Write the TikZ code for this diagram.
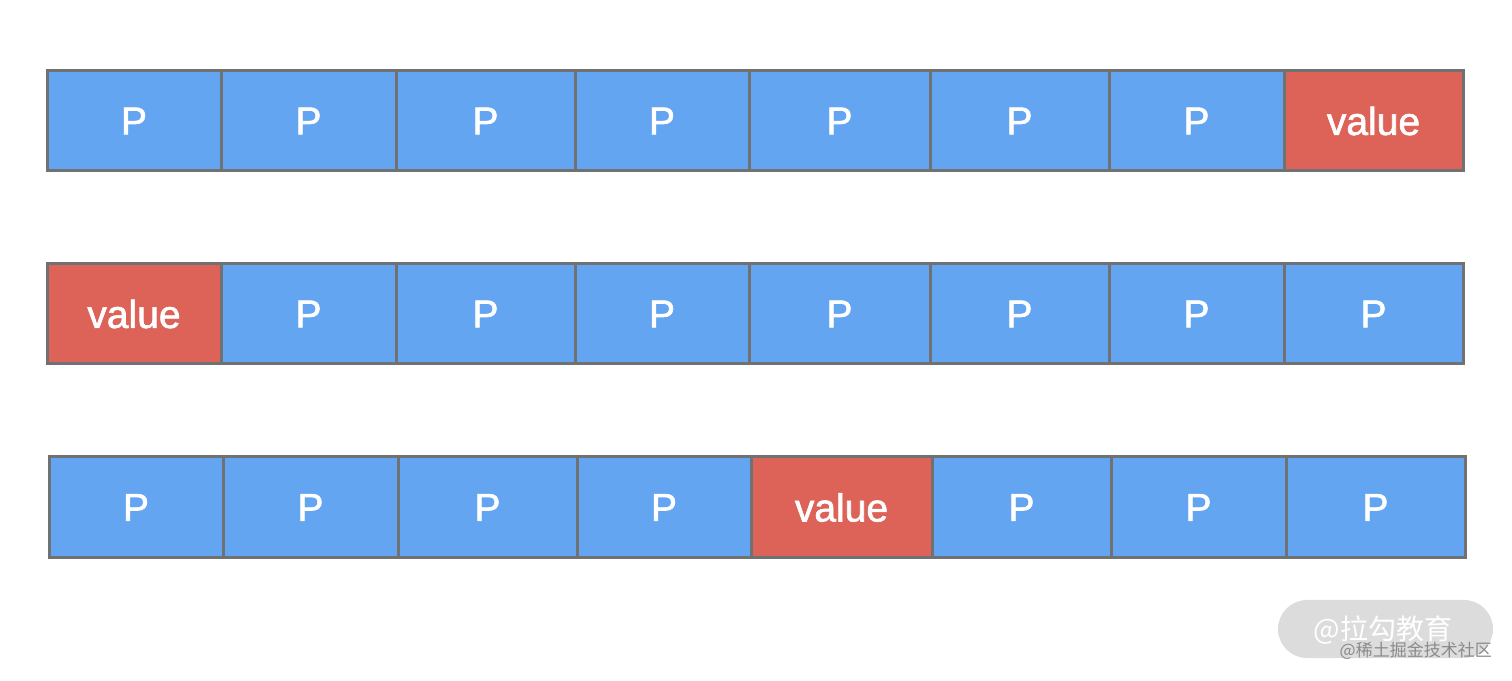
\documentclass[tikz,border=0pt]{standalone}
\usepackage{fontspec}
\setmainfont{Liberation Sans}
\newfontfamily\cellfont[FakeBold=1.6]{Liberation Sans}
\newfontfamily\cjk{Noto Sans CJK SC}
\definecolor{pblue}{HTML}{63A5F0}
\definecolor{vred}{HTML}{DD6359}
\definecolor{cellgray}{HTML}{707173}
\definecolor{wmgray}{HTML}{DCDCDC}
\definecolor{wmtext}{HTML}{8A8A8A}
\begin{document}
\begin{tikzpicture}[x=1pt,y=1pt,
  cell/.style={draw=cellgray, line width=3pt, rectangle, inner sep=0pt, outer sep=0pt,
    text=white, font=\cellfont\fontsize{39}{39}\selectfont},
  pcell/.style={cell, fill=pblue},
  vcell/.style={cell, fill=vred}]
\useasboundingbox (0,0) rectangle (1512,680);
% row 1
\foreach \i/\l/\r/\s/\t in {1/47/221/pcell/P, 2/221/396/pcell/P, 3/396/575/pcell/P, 4/575/749/pcell/P, 5/749/930/pcell/P, 6/930/1109/pcell/P, 7/1109/1284/pcell/P, 8/1284/1463/vcell/value}
  \node[\s, minimum width={\r-\l}, minimum height=100] (ra\i) at ({(\l+\r)/2}, 559) {\t};
% row 2
\foreach \i/\l/\r/\s/\t in {1/47/221/vcell/value, 2/221/396/pcell/P, 3/396/575/pcell/P, 4/575/749/pcell/P, 5/749/930/pcell/P, 6/930/1109/pcell/P, 7/1109/1284/pcell/P, 8/1284/1463/pcell/P}
  \node[\s, minimum width={\r-\l}, minimum height=100] (rb\i) at ({(\l+\r)/2}, 366) {\t};
% row 3
\foreach \i/\l/\r/\s/\t in {1/49/223/pcell/P, 2/223/398/pcell/P, 3/398/577/pcell/P, 4/577/751/pcell/P, 5/751/932/vcell/value, 6/932/1111/pcell/P, 7/1111/1286/pcell/P, 8/1286/1465/pcell/P}
  \node[\s, minimum width={\r-\l}, minimum height=101] (rc\i) at ({(\l+\r)/2}, 172.5) {\t};
% watermark
\node[fill=wmgray, rounded corners=29pt, minimum width=215, minimum height=58, inner sep=0pt] (wm) at (1385.5, 51) {};
\node[text=white, font=\cjk\fontsize{28}{28}\selectfont, inner sep=0pt] (wmt) at (1383, 50) {@拉勾教育};
\node[text=wmtext, font=\cjk\fontsize{17}{17}\selectfont, inner sep=0pt, anchor=east] (wms) at (1492, 29) {@稀土掘金技术社区};
\end{tikzpicture}
\end{document}
